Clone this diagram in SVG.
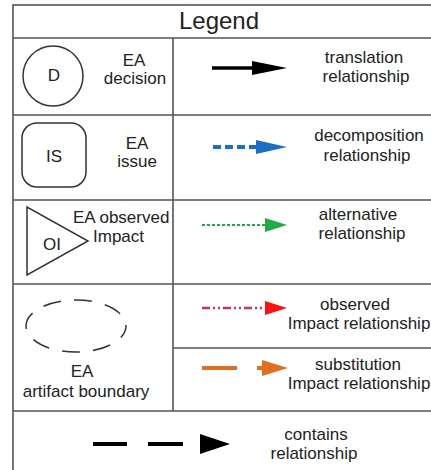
<svg xmlns="http://www.w3.org/2000/svg" width="431" height="470" viewBox="0 0 431 470">
<style>
.grid{stroke:#555;stroke-width:1.6;fill:none}
.t{font-family:"Liberation Sans",Arial,sans-serif;font-size:17px;fill:#222}
.m{text-anchor:middle}
.shape{fill:#fff;stroke:#333;stroke-width:1.5}
</style>
<rect width="431" height="470" fill="#fff"/>
<g id="table">
<rect class="grid" x="13" y="5" width="440" height="490"/>
<line class="grid" x1="13" y1="38" x2="431" y2="38"/>
<line class="grid" x1="13" y1="115" x2="431" y2="115"/>
<line class="grid" x1="13" y1="200" x2="431" y2="200"/>
<line class="grid" x1="13" y1="284" x2="431" y2="284"/>
<line class="grid" x1="173" y1="348" x2="431" y2="348"/>
<line class="grid" x1="13" y1="411" x2="431" y2="411"/>
<line class="grid" x1="173" y1="38" x2="173" y2="411"/>
<text x="219" y="29" font-family="Liberation Sans,Arial,sans-serif" font-size="24" fill="#222" text-anchor="middle">Legend</text>
</g>
<g id="decision">
<circle class="shape" cx="53" cy="76" r="30"/>
<text class="t m" x="54" y="81" font-size="16">D</text>
<text class="t m" x="134" y="66">EA</text>
<text class="t m" x="135" y="84">decision</text>
</g>
<g id="issue">
<rect class="shape" x="22" y="123" width="64" height="64" rx="15"/>
<text class="t m" x="54" y="162" font-size="16">IS</text>
<text class="t m" x="137" y="149">EA</text>
<text class="t m" x="137" y="167">issue</text>
</g>
<g id="observed-impact">
<polygon class="shape" points="27,207 27,275 88,241"/>
<text class="t m" x="52" y="250" font-size="16">OI</text>
<text class="t" x="73" y="223">EA observed</text>
<text class="t" x="93" y="242">Impact</text>
</g>
<g id="artifact-boundary">
<ellipse cx="76" cy="326" rx="50" ry="26" fill="none" stroke="#333" stroke-width="1.5" stroke-dasharray="18 13" stroke-dashoffset="5"/>
<text class="t m" x="82" y="377">EA</text>
<text class="t m" x="86" y="397">artifact boundary</text>
</g>
<g id="connectors">
<g id="translation">
<line x1="212" y1="68" x2="254" y2="68" stroke="#000" stroke-width="3.5"/>
<polygon points="252,61 287,68 252,75" fill="#000"/>
</g>
<g id="decomposition">
<line x1="213" y1="147" x2="258" y2="147" stroke="#1a6fc4" stroke-width="4" stroke-dasharray="8 4"/>
<polygon points="256,140 287,147 256,154" fill="#1a6fc4"/>
</g>
<g id="alternative">
<line x1="202" y1="225" x2="266" y2="225" stroke="#22aa44" stroke-width="2" stroke-dasharray="3 2"/>
<polygon points="265,218 287,225 265,232" fill="#22aa44"/>
</g>
<g id="observed-impact-rel">
<line x1="202" y1="308" x2="263" y2="308" stroke="#cc3355" stroke-width="2.5" stroke-dasharray="8 3 2 3 2 3"/>
<polygon points="265,301 287,308 265,315" fill="#ff1010"/>
</g>
<g id="substitution">
<line x1="202" y1="368" x2="237" y2="368" stroke="#e07020" stroke-width="4"/>
<line x1="257" y1="368" x2="266" y2="368" stroke="#e07020" stroke-width="4"/>
<polygon points="262,360 288,368 262,376" fill="#e07020"/>
</g>
<g id="contains">
<line x1="93" y1="444" x2="127" y2="444" stroke="#000" stroke-width="4"/>
<line x1="148" y1="444" x2="183" y2="444" stroke="#000" stroke-width="4"/>
<polygon points="200,434 230,444 200,454" fill="#000"/>
</g>
</g>
<g id="labels">
<text class="t m" x="364" y="63">translation</text>
<text class="t m" x="366" y="82">relationship</text>
<text class="t m" x="369" y="141">decomposition</text>
<text class="t m" x="367" y="161">relationship</text>
<text class="t m" x="358" y="220">alternative</text>
<text class="t m" x="362" y="239">relationship</text>
<text class="t m" x="355" y="310">observed</text>
<text class="t m" x="359" y="329">Impact relationship</text>
<text class="t m" x="358" y="370">substitution</text>
<text class="t m" x="359" y="389">Impact relationship</text>
<text class="t m" x="316" y="440">contains</text>
<text class="t m" x="314" y="459">relationship</text>
</g>
</svg>
